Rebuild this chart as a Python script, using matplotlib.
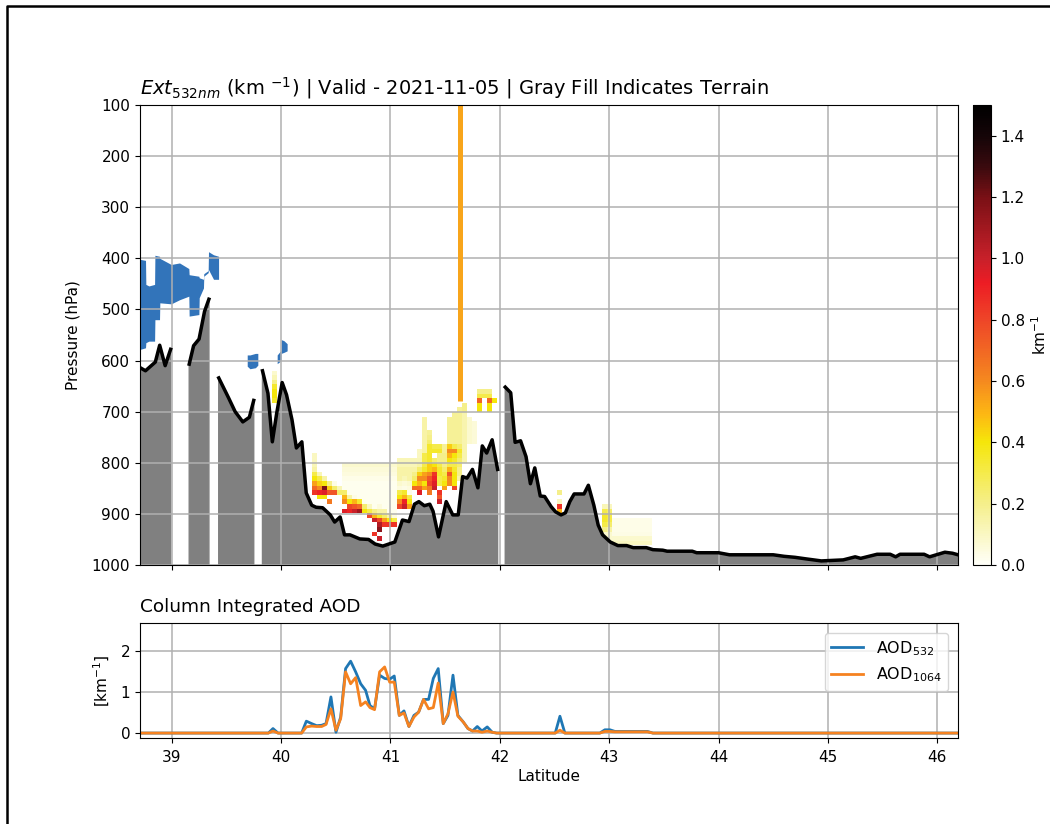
import matplotlib
matplotlib.use("agg")
import matplotlib.pyplot as plt
from matplotlib.colors import LinearSegmentedColormap
from matplotlib.lines import Line2D
import numpy as np

nan = float("nan")

# terrain, NaN splits the segments where the curtain has no data
terrain_lat = [38.72, 38.76, 38.85, 38.89, 38.94, 38.99, nan,
               39.16, 39.20, 39.25, 39.30, 39.34, nan,
               39.43, 39.52, 39.58, 39.65, 39.71, 39.75, nan,
               39.83, 39.88, 39.92, 39.96, 40.01, 40.05, 40.10, 40.14, 40.19, 40.23,
               40.28, 40.32, 40.38, 40.45, 40.49, 40.54, 40.58, 40.63, 40.72, 40.80,
               40.86, 40.93, 41.04, 41.11, 41.17, 41.22, 41.26, 41.31, 41.36, 41.39,
               41.44, 41.51, 41.57, 41.62, 41.66, 41.70, 41.75, 41.80, 41.84, 41.88,
               41.93, 41.98, nan,
               42.05, 42.10, 42.14, 42.19, 42.24, 42.28, 42.32, 42.37, 42.41, 42.47,
               42.51, 42.56, 42.60, 42.64, 42.68, 42.77, 42.81, 42.86, 42.90, 42.94,
               43.01, 43.08, 43.16, 43.22, 43.34, 43.40, 43.49, 43.53, 43.76, 43.80,
               43.92, 44.00, 44.10, 44.50, 44.60, 44.70, 44.80, 44.94, 45.14, 45.25,
               45.30, 45.45, 45.57, 45.62, 45.66, 45.88, 45.93, 46.07, 46.14, 46.19]
terrain_p = [615, 620, 603, 570, 610, 578, nan,
             607, 571, 558, 504, 480, nan,
             634, 673, 700, 720, 711, 678, nan,
             620, 664, 759, 703, 643, 667, 716, 771, 759, 859,
             883, 887, 888, 902, 916, 906, 941, 941, 949, 950,
             959, 963, 955, 912, 915, 881, 876, 884, 881, 895,
             945, 876, 902, 902, 827, 830, 813, 849, 767, 781,
             755, 813, nan,
             652, 663, 760, 757, 788, 841, 810, 865, 866, 886,
             896, 902, 898, 876, 861, 861, 844, 883, 922, 941,
             955, 962, 962, 966, 966, 970, 971, 973, 973, 976,
             976, 976, 980, 980, 983, 985, 988, 992, 990, 984,
             987, 979, 979, 984, 979, 979, 984, 975, 977, 980]

# cloud mask blobs
cloud_lat = [38.717, 38.765, 38.768, 38.796, 38.848, 38.851, 38.893, 38.896, 39.0, 39.076,
             39.161, 39.164, 39.253, 39.256, 39.295, 39.298, 39.338, 39.341, 39.387, 39.433, nan,
             39.695, 39.72, 39.77, 39.792, nan,
             39.969, 40.0, 40.004, nan,
             40.005, 40.03, 40.06]
cloud_top = [403, 405, 452, 455, 452, 395, 397, 401, 413, 410,
             421, 433, 436, 439, 442, 431, 425, 388, 394, 397, nan,
             590, 590, 587, 587, nan,
             590, 582, 582, nan,
             560, 562, 568]
cloud_bot = [579, 576, 566, 563, 563, 521, 521, 488, 490, 482,
             475, 514, 511, 478, 459, 436, 429, 423, 442, 442, nan,
             612, 617, 615, 610, nan,
             607, 602, 600, nan,
             587, 585, 582]

plume_lat = [41.64, 41.64]
plume_p = [100, 680]

# colorbar colours, value in km-1 and colour
ext_levels = [0, .2, .4, .49, .6, .8, .92, 1.0, 1.2, 1.3, 1.4, 1.5]
ext_colors = ["#fffff8", "#f5ef8a", "#f5e60a", "#fdb813", "#f5891f", "#ee4528",
              "#ed1c24", "#c8202a", "#7a1015", "#3a0a0e", "#150508", "#000000"]

# extinction columns: centre latitude, top pressure, values going down in 9 hPa rows
ext_lat = [39.94, 40.30, 40.346, 40.391, 40.437, 40.483, 40.529, 40.574, 40.62, 40.666,
           40.711, 40.757, 40.803, 40.849, 40.894, 40.94, 40.986, 41.031, 41.077, 41.123,
           41.169, 41.214, 41.26, 41.306, 41.351, 41.397, 41.443, 41.489, 41.534, 41.58,
           41.626, 41.671, 41.717, 41.763, 41.809, 41.854, 41.9, 41.946,
           42.56, 42.96, 43.006, 43.05, 43.096, 43.142, 43.188, 43.233, 43.279, 43.325, 43.37]
ext_top = [624, 786, 822, 831, 840, 840, 849, 804, 804, 804,
           804, 804, 804, 804, 804, 804, 804, 804, 795, 795,
           795, 795, 777, 714, 741, 768, 768, 768, 714, 705,
           696, 687, 714, 723, 660, 660, 660, 678,
           858, 885, 885, 912, 912, 912, 912, 912, 912, 912, 912]
ext_vals = [
    [.08, .12, .2, .35, .4, .4, .35],
    [.1, .1, .12, .15, .3, .4, .55, .7, .85],
    [.12, .3, .45, .6, .9, .4],
    [.15, .4, 1.2, .95, .4],
    [.2, .45, .75, 0, .65],
    [.04, .25, .75],
    [.12, .25],
    [.08, .06, .05, .03, .02, .02, .25, .5, .6, 0, .95],
    [.08, .06, .05, .03, .02, .02, .02, .15, .4, .8, .9],
    [.08, .06, .05, .03, .02, .02, .02, .04, .5, .75, 1.0],
    [.08, .06, .05, .03, .02, .02, .02, .02, .35, .7, 1.1],
    [.08, .06, .05, .03, .02, .02, .02, .02, .02, .25, .4],
    [.08, .06, .05, .03, .02, .02, .02, .02, .02, .1, .3, .8],
    [.08, .06, .05, .03, .02, .02, .02, .02, .02, .02, .2, .5, 1.0, 0, 0, .85],
    [.08, .06, .05, .03, .02, .02, .02, .02, .02, .05, .15, .35, .8, 1.05, 1.15, 0, 1.0],
    [.08, .06, .05, .03, .02, .02, .02, .02, .02, .02, .15, .25, .55, .85],
    [.08, .06, .05, .03, .02, .02, .02, .02, .02, .02, .02, .15, .4, .85],
    [.08, .06, .05, .03, .02, .02, .02, .02, .02, .02, .02, .05, .3, .85],
    [.12, .12, .15, .15, .15, .08, .05, .3, .4, .6, .8],
    [.12, .12, .15, .15, .12, .06, .04, .35, .5, .9, 1.0],
    [.12, .12, .15, .15, .15, .08, .05, .03, .3, .4, .55],
    [.12, .12, .15, .2, .25, .4, .7],
    [.1, .1, .12, .15, .25, .45, .6, .5, .7, .95],
    [.15, .15, .15, .15, .15, .15, .15, .15, .3, .3, .3, .35, .55, .6, .4, .55],
    [.18, .2, .25, .35, .35, .35, .35, .45, .45, .6, .75, .8, .65, .65],
    [.3, .35, 0, .25, .4, .5, .85, .9, .95, 1.0],
    [.3, .35, .2, .2, .3, .35, .35, .3, .3, 0, .85, .75, 1.0],
    [.18, .18, .2, .2, .2, .25, .3, .35, .4, .55],
    [.18, .18, .18, .18, .18, .18, .45, .6, .5, .4, .3, .5, .75, .6, .6],
    [.18, .18, .18, .18, .18, .18, .18, .3, .6, .4, .35, .3, .35, .4, .4, .4, .8],
    [.18, .18, .18, .18, .18, .18, .18, .18, .25, .35, .3, .25, .25, .2, .2, .15],
    [.2, .2, .14, .14, .14, .14, .14, .14, .14, .14, .14, .14, .14],
    [.08, .08, .08, .08, .08, .08],
    [.06, .06, .06, .06, .06],
    [.2, .3, .7, .4, .4],
    [.2, .3],
    [.2, .3, .7, .4, .4],
    [.4],
    [.2, 0, .1, .85, .5],
    [.12, .3, .35, .35, .3, .2, .08, .08, .06],
    [.1, .25, .3, .3, .25, .15, .08, .08, .06],
    [.03, .03, .03, .04, .08, .1],
    [.03, .03, .03, .04, .08, .1],
    [.03, .03, .03, .04, .08, .1],
    [.03, .03, .03, .04, .08, .1],
    [.03, .03, .03, .04, .08, .1],
    [.03, .03, .03, .04, .08, .1],
    [.03, .03, .03, .04, .08, .1],
    [.03, .03, .03, .04, .08, .1],
]

aod_lat = [38.71, 39.884, 39.926, 39.972, 40.188, 40.231, 40.280, 40.325, 40.371, 40.411,
           40.456, 40.502, 40.545, 40.590, 40.636, 40.682, 40.728, 40.773, 40.813, 40.855,
           40.901, 40.947, 40.993, 41.035, 41.081, 41.124, 41.169, 41.215, 41.258, 41.303,
           41.349, 41.392, 41.437, 41.483, 41.526, 41.572, 41.617, 41.666, 41.709, 41.751,
           41.794, 41.837, 41.885, 41.931, 41.971, 42.507, 42.550, 42.595, 42.915, 42.961,
           43.007, 43.053, 43.35, 43.40, 46.19]
aod_532 = [0, 0, .11, 0, 0, .29, .23, .18, .19, .23,
           .88, .02, .39, 1.57, 1.75, 1.49, 1.2, 1.04, .67, .59,
           1.41, 1.33, 1.31, 1.39, .43, .54, .16, .43, .51, .82,
           .82, 1.33, 1.57, .23, .43, 1.41, .43, .27, .11, .05,
           .16, .05, .15, .02, 0, 0, .41, 0, 0, .08,
           .08, .04, .04, 0, 0]
aod_1064 = [0, 0, .05, 0, 0, .15, .17, .16, .16, .21,
            .59, .07, .35, 1.49, 1.2, 1.35, .67, .76, .62, .57,
            1.49, 1.61, 1.24, 1.24, .43, .49, .16, .39, .51, .82,
            .59, .62, 1.22, .23, .47, 1.0, .41, .27, .11, .05,
            .05, .02, .05, .02, 0, 0, .07, 0, 0, .04,
            .04, .03, .03, 0, 0]

lat_step = 0.0457
row_step = 9
lat_start = 39.94
p_start = 615


def ext_grid():
    """Put the columns on a regular lat/pressure grid, empty cells masked"""
    n_lat = int(round((43.4 - lat_start) / lat_step)) + 1
    n_p = int(round((990 - p_start) / row_step)) + 1
    grid = np.zeros((n_p, n_lat))
    for lat, top, vals in zip(ext_lat, ext_top, ext_vals):
        col = int(round((lat - lat_start) / lat_step))
        row = int(round((top - p_start) / row_step))
        grid[row:row + len(vals), col] = vals
    lats = lat_start - lat_step / 2 + lat_step * np.arange(n_lat + 1)
    pres = p_start - row_step / 2 + row_step * np.arange(n_p + 1)
    return lats, pres, np.ma.masked_equal(grid, 0)


W, H = 1050, 824
fig = plt.figure(figsize=(W / 100, H / 100), dpi=100)


def px_axes(left, top, right, bottom):
    return fig.add_axes([left / W, 1 - bottom / H, (right - left) / W, (bottom - top) / H])


ax = px_axes(140, 105, 958, 565)
cax = px_axes(973, 105, 991, 565)
ax2 = px_axes(140, 623, 958, 738)

ext_cmap = LinearSegmentedColormap.from_list(
    "ext", [(v / 1.5, c) for v, c in zip(ext_levels, ext_colors)])
lats, pres, grid = ext_grid()
mesh = ax.pcolormesh(lats, pres, grid, cmap=ext_cmap, vmin=0, vmax=1.5)
ax.fill_between(terrain_lat, terrain_p, 1000, color="gray")
ax.fill_between(cloud_lat, cloud_top, cloud_bot, color="#3274ba", lw=0)
ax.plot(plume_lat, plume_p, color="#f8a51b", lw=3.6, solid_capstyle="butt")
ax.plot(terrain_lat, terrain_p, color="black", lw=2.5)
ax.set_xlim(38.71, 46.19)
ax.set_ylim(1000, 100)
ax.set_yticks(range(100, 1001, 100))
ax.set_xticks(range(39, 47))
ax.tick_params(labelbottom=False, labelsize=11)
ax.set_ylabel("Pressure (hPa)", fontsize=11, labelpad=8)
ax.set_title(r"$Ext_{532nm}$ (km $^{-1}$) | Valid - 2021-11-05 | Gray Fill Indicates Terrain",
             loc="left", fontsize=14, pad=8)
ax.grid(True, lw=1.1)

cb = fig.colorbar(mesh, cax=cax)
cb.set_label("km$^{-1}$", fontsize=11, labelpad=4)
cb.ax.tick_params(labelsize=11)

ax2.plot(aod_lat, aod_532, lw=2, color="#1f77b4", label="AOD$_{532}$")
ax2.plot(aod_lat, aod_1064, lw=2, color="#f58220", label="AOD$_{1064}$")
ax2.set_xlim(38.71, 46.19)
ax2.set_ylim(-0.12, 2.68)
ax2.set_xticks(range(39, 47))
ax2.set_yticks([0, 1, 2])
ax2.tick_params(axis="x", labelsize=11, pad=5)
ax2.tick_params(axis="y", labelsize=11)
ax2.set_xlabel("Latitude", fontsize=11, labelpad=3)
ax2.set_ylabel("[km$^{-1}$]", fontsize=11, labelpad=6)
ax2.set_title("Column Integrated AOD", loc="left", fontsize=13.3, pad=8)
ax2.grid(True, lw=1.1)
ax2.legend(loc="upper right", fontsize=11.5, borderaxespad=0.6)

# black frame left over on the left and top of the source image
fig.add_artist(Line2D([7 / W, 7 / W, 1], [0, 1 - 6 / H, 1 - 6 / H], color="black", lw=1.8))

fig.savefig("out.png", dpi=100)
